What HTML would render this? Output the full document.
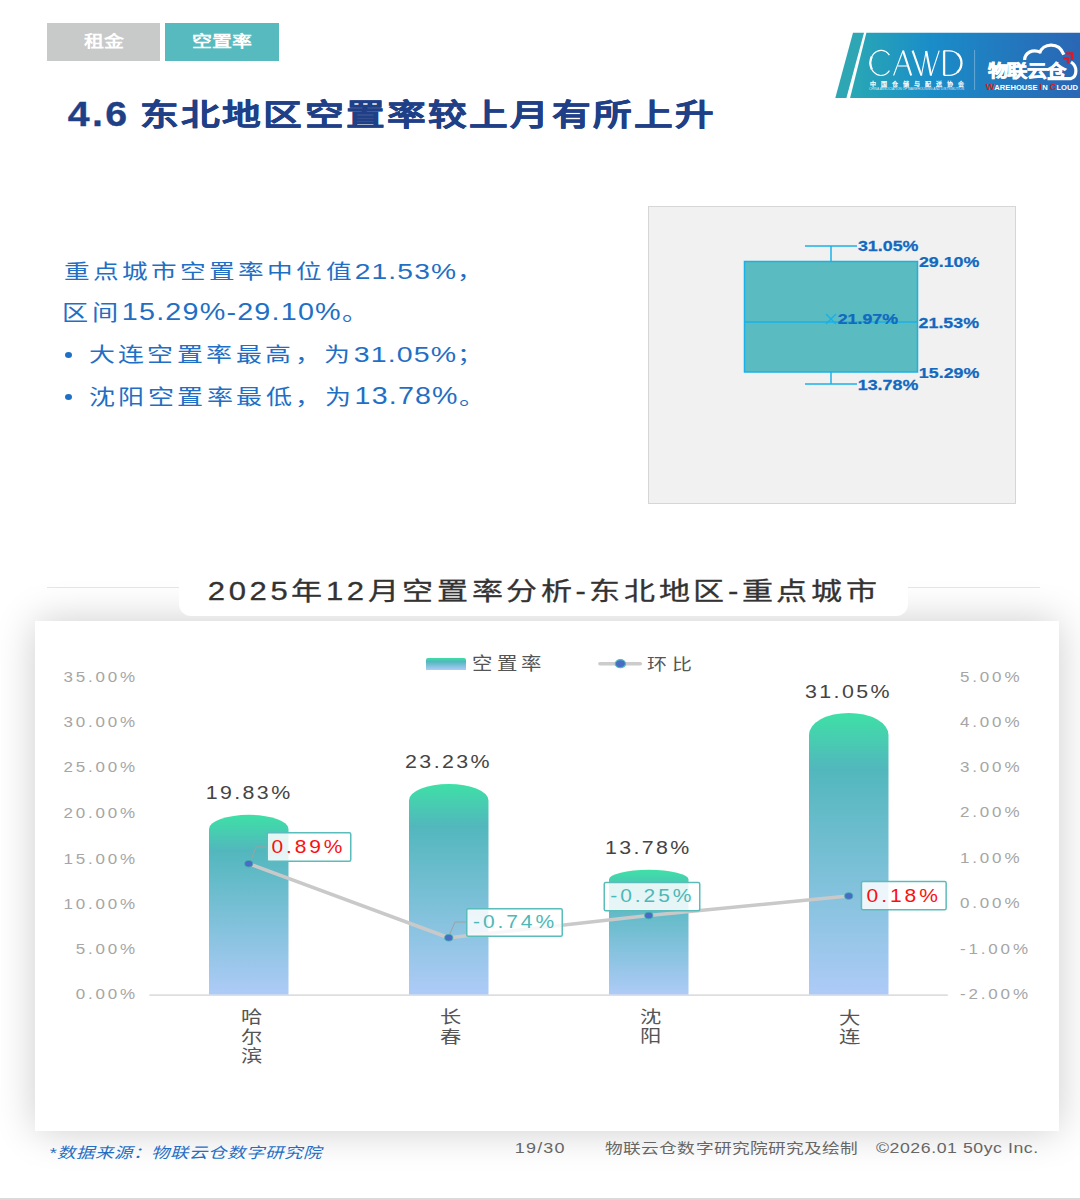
<!DOCTYPE html>
<html lang="zh-CN">
<head>
<meta charset="utf-8">
<style>
*{margin:0;padding:0;box-sizing:border-box;}
html,body{width:1080px;height:1200px;overflow:hidden;background:#fff;}
body{position:relative;font-family:"Liberation Sans",sans-serif;}
.abs{position:absolute;white-space:nowrap;}
.t{position:absolute;white-space:nowrap;line-height:1.3;transform-origin:0 0;}
.tab{position:absolute;top:23px;height:38px;}
.card{position:absolute;left:35px;top:621px;width:1024px;height:510px;background:#fff;box-shadow:0 0 38px 0 rgba(0,0,0,0.2);}
.pill{position:absolute;left:179px;top:560px;width:729px;height:56px;background:#fff;border-radius:0 0 12px 12px;}
.hl{position:absolute;height:1px;background:#e6e6e6;}
.n{font-size:1.1em;letter-spacing:1px;}
</style>
</head>
<body>
<div class="tab" style="left:47px;width:113px;background:#c8c9c9"></div>
<div class="tab" style="left:165px;width:114px;background:#56babe"></div>
<svg class="abs" style="left:0;top:0" width="1080" height="110" viewBox="0 0 1080 110">
<defs><linearGradient id="lgb" gradientUnits="userSpaceOnUse" x1="850" y1="0" x2="1080" y2="0"><stop offset="0" stop-color="#2aa8b4"/><stop offset="0.35" stop-color="#1a8dc8"/><stop offset="1" stop-color="#2a66b4"/></linearGradient></defs>
<polygon points="853,32.8 864,32.8 846.4,98 835.3,98" fill="#2ea6b4"/>
<polygon points="866.4,32.8 1080,32.8 1080,98 850.1,98" fill="url(#lgb)"/>
<line x1="974.6" y1="50" x2="974.6" y2="90" stroke="rgba(255,255,255,0.4)" stroke-width="0.8"/>
<g fill="none" stroke="#fff" stroke-linecap="butt">
<path d="M889.4,55.2 A10.6,12.6 0 1 0 889.4,70.6" stroke-width="1.2"/>
<path d="M871.82,56.6 A10.6,12.6 0 0 0 871.82,69.2" stroke-width="2.2"/>
<path d="M893.6,75.5 L903,50.6" stroke-width="1.1"/>
<path d="M903,50.6 L911.2,75.5" stroke-width="2.1"/>
<path d="M897.9,66 L908.2,66" stroke-width="1.1"/>
<path d="M912.6,50.6 L921.4,75.5" stroke-width="2.1"/>
<path d="M921.4,75.5 L926.2,51" stroke-width="1.1"/>
<path d="M926.2,51 L931,75.5" stroke-width="2.1"/>
<path d="M931,75.5 L939.2,50.6" stroke-width="1.1"/>
<path d="M944.1,50.6 V75.4" stroke-width="2.3"/>
<path d="M944,50.9 H949.5 A12,12.2 0 0 1 949.5,75.3 H944" stroke-width="1.2"/>
<path d="M957.2,53.65 A12,12.2 0 0 1 957.2,72.35" stroke-width="2.2"/>
</g>
<text x="869.9" y="85.8" font-family="Liberation Sans" font-size="6" fill="#fff" stroke="#fff" stroke-width="0.25" textLength="94" lengthAdjust="spacing">中国仓储与配送协会</text>
<text x="869" y="90.1" font-family="Liberation Sans" font-size="3.4" fill="rgba(255,255,255,0.85)" textLength="95" lengthAdjust="spacingAndGlyphs">CHINA ASSOCIATION OF WAREHOUSING AND DISTRIBUTION</text>
<text x="985.7" y="89.6" font-family="Liberation Sans" font-weight="bold" font-size="7.9" fill="#fff" textLength="92.3" lengthAdjust="spacingAndGlyphs"><tspan fill="#e8141e" font-size="9.5">W</tspan>AREHOUSE <tspan fill="#e8141e" font-size="9.5">I</tspan>N <tspan fill="#e8141e" font-size="9.5">C</tspan>LOUD</text>
</svg>

<div class="abs" style="left:648px;top:206px;width:368px;height:298px;background:#f1f1f1;border:1px solid #d6d6d6;"></div>
<svg class="abs" style="left:0;top:0" width="1080" height="520" viewBox="0 0 1080 520">
<g stroke="#1ab0e8" stroke-width="1.5" fill="none">
<line x1="805" y1="246" x2="857" y2="246"/>
<line x1="831" y1="246" x2="831" y2="261.5"/>
<rect x="744.5" y="261.5" width="173" height="110.5" fill="#5abcc0"/>
<line x1="744.5" y1="322" x2="917.5" y2="322"/>
<line x1="831" y1="372" x2="831" y2="384"/>
<line x1="805" y1="384" x2="857" y2="384"/>
<path d="M826,314 L836,324 M836,314 L826,324"/>
</g>
</svg>
<div class="abs" style="left:64.5px;top:351.75px;width:7.2px;height:6.1px;border-radius:50%;background:#1f6fc5"></div>
<div class="abs" style="left:64.5px;top:394.15px;width:7.2px;height:6.1px;border-radius:50%;background:#1f6fc5"></div>
<div class="hl" style="left:47px;top:587px;width:132px"></div>
<div class="hl" style="left:908px;top:587px;width:132px"></div>
<div class="card"></div>
<div class="pill"></div>
<svg class="abs" style="left:0;top:0" width="1080" height="1200" viewBox="0 0 1080 1200">
<defs><linearGradient id="bg" x1="0" y1="0" x2="0" y2="1"><stop offset="0" stop-color="#3ee0a6"/><stop offset="0.2" stop-color="#52b7bd"/><stop offset="1" stop-color="#aecbf7"/></linearGradient></defs>
<line x1="149.4" y1="995.2" x2="947.8" y2="995.2" stroke="#dedede" stroke-width="1.8"/>
<path d="M209.00,994.6 L209.00,828.88 A39.75,14.05 0 0 1 288.50,828.88 L288.50,994.6 Z" fill="url(#bg)"/>
<path d="M409.00,994.6 L409.00,800.40 A39.75,16.46 0 0 1 488.50,800.40 L488.50,994.6 Z" fill="url(#bg)"/>
<path d="M609.00,994.6 L609.00,879.56 A39.75,9.77 0 0 1 688.50,879.56 L688.50,994.6 Z" fill="url(#bg)"/>
<path d="M809.00,994.6 L809.00,734.89 A39.75,22.00 0 0 1 888.50,734.89 L888.50,994.6 Z" fill="url(#bg)"/>
<polyline points="248.75,863.71 448.75,937.76 648.75,915.50 848.75,895.97" fill="none" stroke="#c9c9c9" stroke-width="3.5" stroke-linejoin="round"/>
<polyline points="249.5,864 256,847 266.5,847" fill="none" stroke="#a0a0a0" stroke-width="1"/>
<polyline points="448.5,937 455,922 466,922" fill="none" stroke="#a0a0a0" stroke-width="1"/>
<ellipse cx="248.75" cy="863.71" rx="4.1" ry="3.3" fill="#4a6cc8" stroke="#3fb1a9" stroke-width="0.8"/>
<ellipse cx="448.75" cy="937.76" rx="4.1" ry="3.3" fill="#4a6cc8" stroke="#3fb1a9" stroke-width="0.8"/>
<ellipse cx="648.75" cy="915.50" rx="4.1" ry="3.3" fill="#4a6cc8" stroke="#3fb1a9" stroke-width="0.8"/>
<ellipse cx="848.75" cy="895.97" rx="4.1" ry="3.3" fill="#4a6cc8" stroke="#3fb1a9" stroke-width="0.8"/>
<rect x="267.25" y="832.75" width="83.50" height="28.50" rx="1.5" fill="rgba(255,255,255,0.85)" stroke="#5bbcbc" stroke-width="1.5"/>
<rect x="466.75" y="908.75" width="95.50" height="27.50" rx="1.5" fill="rgba(255,255,255,0.85)" stroke="#5bbcbc" stroke-width="1.5"/>
<rect x="604.25" y="882.45" width="95.50" height="28.20" rx="1.5" fill="rgba(255,255,255,0.85)" stroke="#5bbcbc" stroke-width="1.5"/>
<rect x="861.45" y="881.55" width="84.70" height="28.10" rx="1.5" fill="rgba(255,255,255,0.85)" stroke="#5bbcbc" stroke-width="1.5"/>
</svg>
<div class="abs" style="left:426px;top:658px;width:40px;height:12px;border-radius:2px 2px 0 0;background:linear-gradient(#3ee0a6,#52b7bd 30%,#aecbf7)"></div>
<svg class="abs" style="left:596px;top:657px" width="50" height="14"><line x1="3.9" y1="6.8" x2="44.3" y2="6.8" stroke="#cccccc" stroke-width="3.6" stroke-linecap="round"/><ellipse cx="24.4" cy="6.7" rx="5.1" ry="4.0" fill="#4a6cc8" stroke="#3fc0b4" stroke-width="1.2"/></svg>
<div class="abs" style="left:0;top:1198px;width:1080px;height:2px;background:#dadada"></div>
<svg class="abs" style="left:0;top:0" width="1080" height="110" viewBox="0 0 1080 110">
<g fill="none" stroke="#fff" stroke-width="3.2" stroke-linecap="butt">
<path d="M1024.6,60 C1024.8,53 1032.5,48.3 1040.6,52.4"/>
<path d="M1039.6,53.2 C1042.5,43.5 1058.5,41 1063.8,54.6"/>
<path d="M1071,62 C1077.5,66 1077.5,76.5 1071,78.6 L1047.5,78.6"/>
</g>
<path d="M1066.2,53.4 H1071.9 V60" fill="none" stroke="#e8141e" stroke-width="2.4"/>
<path d="M1063.2,58.2 H1067.8 V63.6" fill="none" stroke="#e8141e" stroke-width="2.1"/>
</svg>

<div id="lgt" class="t" style="left:988px;top:58px;font-size:20px;font-weight:bold;color:#fff;letter-spacing:-1px;-webkit-text-stroke:0.8px #fff;transform:matrix(1.0123,0,0,0.8396,0.04,2.53);">物联云仓</div>
<div id="tab1" class="t" style="left:85px;top:30px;font-size:16px;font-weight:bold;color:#fff;transform:matrix(1.2448,0,0,0.9657,-0.52,2.34);">租金</div>
<div id="tab2" class="t" style="left:194px;top:30px;font-size:16px;font-weight:bold;color:#fff;transform:matrix(1.2448,0,0,0.9657,-1.55,2.35);">空置率</div>
<div id="title" class="t" style="left:68px;top:95px;font-size:32px;font-weight:bold;color:#1f3f87;letter-spacing:2px;-webkit-text-stroke:0.3px #1f3f87;transform:matrix(1.2271,0,0,1.1059,-0.36,-3.07);">4.6</div>
<div id="title2" class="t" style="left:142px;top:95px;font-size:32px;font-weight:bold;color:#1f3f87;letter-spacing:2px;-webkit-text-stroke:0.4px #1f3f87;transform:matrix(1.2104,0,0,0.9236,-2.02,1.57);">东北地区空置率较上月有所上升</div>
<div id="l1" class="t" style="left:65px;top:256px;font-size:22px;color:#1f6fc5;letter-spacing:3px;transform:matrix(1.1648,0,0,0.9248,-1.50,1.16);">重点城市空置率中位值<span class=n>21.53%</span>，</div>
<div id="l2" class="t" style="left:65px;top:297px;font-size:22px;color:#1f6fc5;letter-spacing:3px;transform:matrix(1.1886,0,0,0.9696,-2.65,0.03);">区间<span class=n>15.29%-29.10%</span>。</div>
<div id="l3" class="t" style="left:90px;top:339px;font-size:22px;color:#1f6fc5;letter-spacing:3px;transform:matrix(1.1781,0,0,0.9363,-1.44,0.40);">大连空置率最高，为<span class=n>31.05%</span>；</div>
<div id="l4" class="t" style="left:90px;top:382px;font-size:22px;color:#1f6fc5;letter-spacing:3px;transform:matrix(1.1824,0,0,0.9521,-1.45,-0.50);">沈阳空置率最低，为<span class=n>13.78%</span>。</div>
<div id="b1" class="t" style="left:858px;top:238px;font-size:15px;font-weight:bold;color:#1169c0;-webkit-text-stroke:0.25px #1169c0;transform:matrix(1.1896,0,0,1.0245,-0.08,-2.03);">31.05%</div>
<div id="b2" class="t" style="left:919px;top:254px;font-size:15px;font-weight:bold;color:#1169c0;-webkit-text-stroke:0.25px #1169c0;transform:matrix(1.1886,0,0,0.9889,-0.10,-1.91);">29.10%</div>
<div id="b3" class="t" style="left:838px;top:311px;font-size:15px;font-weight:bold;color:#1169c0;-webkit-text-stroke:0.25px #1169c0;transform:matrix(1.1886,0,0,0.9889,-0.37,-1.46);">21.97%</div>
<div id="b4" class="t" style="left:919px;top:315px;font-size:15px;font-weight:bold;color:#1169c0;-webkit-text-stroke:0.25px #1169c0;transform:matrix(1.1896,0,0,1.0245,-0.44,-2.58);">21.53%</div>
<div id="b5" class="t" style="left:919px;top:364px;font-size:15px;font-weight:bold;color:#1169c0;-webkit-text-stroke:0.25px #1169c0;transform:matrix(1.1894,0,0,0.9546,-0.16,0.00);">15.29%</div>
<div id="b6" class="t" style="left:858px;top:377px;font-size:15px;font-weight:bold;color:#1169c0;-webkit-text-stroke:0.25px #1169c0;transform:matrix(1.1896,0,0,1.0245,-0.23,-2.63);">13.78%</div>
<div id="ct" class="t" style="left:209px;top:573px;font-size:26px;color:#333;letter-spacing:3px;-webkit-text-stroke:0.3px #333;transform:matrix(1.1944,0,0,0.9618,-1.15,2.93);">2025年12月空置率分析-东北地区-重点城市</div>
<div id="lg1" class="t" style="left:474px;top:652px;font-size:17px;color:#555;letter-spacing:3.3px;transform:matrix(1.2014,0,0,1.0371,-1.51,1.86);">空置率</div>
<div id="lg2" class="t" style="left:648px;top:652px;font-size:17px;color:#555;letter-spacing:4.4px;transform:matrix(1.1715,0,0,0.9227,-0.58,3.42);">环比</div>
<div id="yl" class="t" style="left:60px;top:656px;font-size:15px;color:#a6a6a6;letter-spacing:2.5px;line-height:45.16px;text-align:right;transform:matrix(1.1331,0,0,1.0034,3.40,-1.97);">35.00%<br>30.00%<br>25.00%<br>20.00%<br>15.00%<br>10.00%<br>5.00%<br>0.00%</div>
<div id="yr" class="t" style="left:960px;top:656px;font-size:15px;color:#a6a6a6;letter-spacing:2.5px;line-height:45.16px;transform:matrix(1.1331,0,0,1.0034,-0.02,-2.42);">5.00%<br>4.00%<br>3.00%<br>2.00%<br>1.00%<br>0.00%<br>-1.00%<br>-2.00%</div>
<div id="v1" class="t" style="left:207px;top:782px;font-size:18px;color:#444;letter-spacing:2px;transform:matrix(1.1879,0,0,1.0217,-1.25,-0.03);">19.83%</div>
<div id="v2" class="t" style="left:406px;top:751px;font-size:18px;color:#444;letter-spacing:2px;transform:matrix(1.1894,0,0,1.0135,-0.92,0.01);">23.23%</div>
<div id="v3" class="t" style="left:607px;top:837px;font-size:18px;color:#444;letter-spacing:2px;transform:matrix(1.1862,0,0,1.0467,-1.95,-0.99);">13.78%</div>
<div id="v4" class="t" style="left:806px;top:680px;font-size:18px;color:#444;letter-spacing:2px;transform:matrix(1.1894,0,0,1.0135,-1.02,0.56);">31.05%</div>
<div id="h1" class="t" style="left:273px;top:836px;font-size:18px;color:#fa1010;letter-spacing:2.5px;transform:matrix(1.1637,0,0,1.0605,-1.55,-1.39);">0.89%</div>
<div id="h2" class="t" style="left:474px;top:911px;font-size:18px;color:#4db8b8;letter-spacing:2.5px;transform:matrix(1.1669,0,0,1.0175,-1.01,-0.63);">-0.74%</div>
<div id="h3" class="t" style="left:611px;top:885px;font-size:18px;color:#4db8b8;letter-spacing:2.5px;transform:matrix(1.1669,0,0,1.0175,-0.66,-0.43);">-0.25%</div>
<div id="h4" class="t" style="left:867px;top:884px;font-size:18px;color:#fa1010;letter-spacing:2.5px;transform:matrix(1.1669,0,0,1.0175,-0.41,0.32);">0.18%</div>
<div id="x1" class="t" style="left:242px;top:1005px;font-size:18px;color:#555;line-height:19.8px;transform:matrix(1.1823,0,0,0.9610,-0.91,3.94);">哈<br>尔<br>滨</div>
<div id="x2" class="t" style="left:441px;top:1005px;font-size:18px;color:#555;line-height:19.8px;transform:matrix(1.1826,0,0,0.9618,-0.88,3.87);">长<br>春</div>
<div id="x3" class="t" style="left:641px;top:1005px;font-size:18px;color:#555;line-height:19.8px;transform:matrix(1.1823,0,0,0.9610,-1.06,3.85);">沈<br>阳</div>
<div id="x4" class="t" style="left:840px;top:1005px;font-size:18px;color:#555;line-height:19.8px;transform:matrix(1.1867,0,0,0.9607,-0.75,4.37);">大<br>连</div>
<div id="f1" class="t" style="left:51px;top:1142px;font-size:16px;color:#1f6fc5;font-style:italic;letter-spacing:0.5px;transform:matrix(1.1476,0,0,0.9382,-1.90,2.25);">*数据来源：物联云仓数字研究院</div>
<div id="f2" class="t" style="left:516px;top:1139px;font-size:15px;color:#666;letter-spacing:1px;transform:matrix(1.1980,0,0,0.9232,-1.23,-0.05);">19/30</div>
<div id="f3" class="t" style="left:606px;top:1138px;font-size:15px;color:#666;letter-spacing:0.3px;transform:matrix(1.1811,0,0,0.8885,-0.81,1.42);">物联云仓数字研究院研究及绘制</div>
<div id="f4" class="t" style="left:876px;top:1138px;font-size:16px;color:#666;letter-spacing:0.5px;transform:matrix(1.1058,0,0,0.9545,0.00,0.94);">©2026.01 50yc Inc.</div>
</body>
</html>
